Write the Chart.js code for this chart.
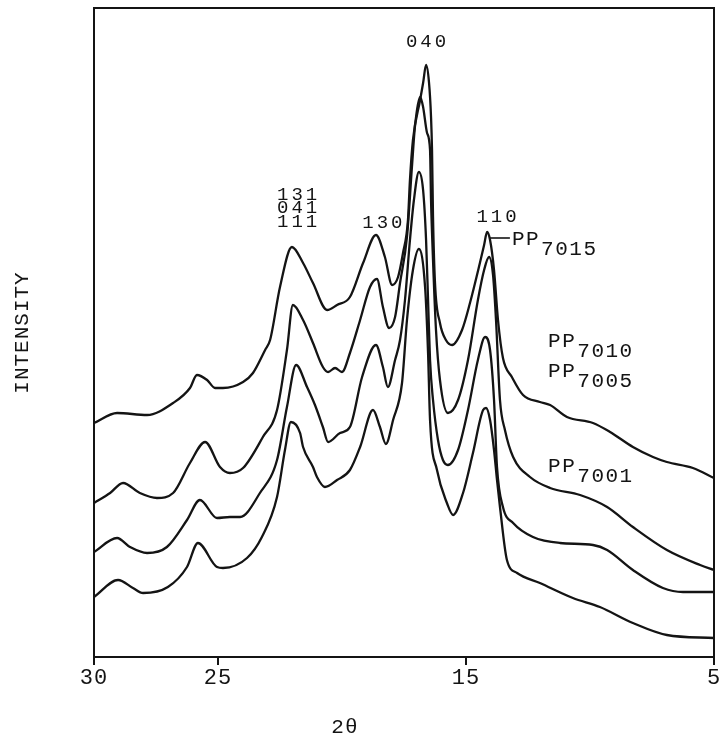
<!DOCTYPE html>
<html>
<head>
<meta charset="utf-8">
<script src="https://cdn.jsdelivr.net/npm/chart.js@4/dist/chart.umd.min.js"></script>
<style>
  html, body { margin: 0; padding: 0; background: #ffffff; }
  canvas { display: block; }
</style>
</head>
<body>
<canvas id="c" width="720" height="738"></canvas>
<script>
// ---------------- data ----------------
const tickValues = [30, 25, 15, 5];
const tickLabels = ['30', '25', '15', '5'];
const seriesNames = ['PP7015', 'PP7010', 'PP7005', 'PP7001'];
const xTitle = '2θ';
const yTitle = 'INTENSITY';

const pp7015TwoTheta = [30.00, 29.07, 27.86, 26.81, 26.13, 25.85, 25.44, 25.12, 24.80, 23.99, 23.59, 23.10, 22.90, 22.50, 22.02, 21.57, 21.17, 20.60, 20.20, 19.68, 19.15, 18.63, 18.27, 17.98, 17.74, 17.54, 17.34, 17.26, 17.14, 16.85, 16.73, 16.61, 16.49, 16.41, 16.37, 16.33, 16.25, 16.05, 15.81, 15.56, 15.16, 14.84, 14.44, 14.27, 14.15, 14.03, 13.87, 13.71, 13.51, 13.15, 12.70, 12.02, 11.61, 10.93, 9.88, 9.19, 8.27, 7.46, 6.90, 5.85, 5.00];
const pp7015Intensity = [234, 244, 242, 254, 269, 282, 277, 269, 269, 275, 284, 307, 317, 370, 410, 394, 374, 347, 352, 360, 394, 422, 400, 372, 380, 404, 437, 477, 517, 557, 574, 592, 574, 540, 507, 440, 374, 334, 317, 312, 327, 354, 394, 412, 425, 417, 387, 337, 299, 280, 262, 255, 252, 240, 234, 225, 210, 200, 195, 189, 179];

const pp7010TwoTheta = [30.00, 29.35, 28.83, 28.15, 27.46, 26.81, 26.13, 25.52, 24.92, 24.52, 23.99, 23.19, 22.62, 22.22, 21.98, 21.57, 21.17, 20.77, 20.56, 20.28, 20.00, 19.68, 19.27, 18.87, 18.59, 18.35, 18.10, 17.86, 17.66, 17.38, 17.18, 17.06, 16.85, 16.73, 16.57, 16.45, 16.41, 16.33, 16.21, 16.05, 15.73, 15.32, 14.92, 14.52, 14.27, 14.07, 13.91, 13.79, 13.63, 13.43, 13.10, 12.42, 11.61, 10.40, 9.31, 8.27, 6.90, 5.56, 5.00];
const pp7010Intensity = [154, 164, 174, 164, 159, 164, 194, 215, 190, 184, 189, 220, 247, 307, 352, 337, 314, 290, 285, 289, 285, 304, 337, 370, 378, 350, 329, 340, 374, 420, 490, 530, 560, 550, 524, 507, 457, 397, 327, 277, 244, 257, 297, 357, 387, 400, 382, 337, 257, 227, 200, 180, 169, 162, 150, 130, 107, 92, 87];

const pp7005TwoTheta = [30.00, 29.07, 28.55, 27.86, 27.06, 26.25, 25.73, 25.04, 24.52, 24.11, 23.31, 22.62, 22.22, 21.85, 21.41, 21.09, 20.77, 20.56, 20.08, 19.68, 19.19, 18.63, 18.35, 18.15, 17.86, 17.66, 17.46, 17.26, 17.10, 16.90, 16.73, 16.61, 16.53, 16.45, 16.33, 16.13, 15.93, 15.73, 15.32, 14.92, 14.52, 14.23, 14.03, 13.87, 13.75, 13.51, 13.10, 12.30, 11.21, 9.88, 9.31, 8.27, 7.06, 6.25, 5.00];
const pp7005Intensity = [105, 119, 110, 104, 110, 137, 157, 139, 140, 140, 164, 197, 250, 292, 270, 252, 230, 215, 224, 230, 280, 312, 290, 270, 297, 317, 357, 417, 457, 485, 467, 417, 357, 297, 257, 217, 197, 192, 207, 247, 297, 320, 307, 257, 190, 150, 134, 120, 114, 112, 107, 87, 69, 65, 65];

const pp7001TwoTheta = [30.00, 29.03, 28.43, 28.02, 27.02, 26.25, 25.81, 25.04, 24.80, 23.83, 23.23, 22.62, 22.30, 22.06, 21.69, 21.57, 21.17, 21.01, 20.69, 20.20, 19.68, 19.27, 18.75, 18.47, 18.23, 17.94, 17.58, 17.38, 17.14, 16.90, 16.65, 16.53, 16.45, 16.17, 15.77, 15.52, 15.12, 14.72, 14.31, 14.19, 14.03, 13.87, 13.75, 13.63, 13.35, 12.94, 12.02, 10.69, 9.60, 8.27, 6.90, 5.00];
const pp7001Intensity = [60, 77, 69, 64, 70, 90, 114, 90, 89, 99, 120, 160, 207, 235, 224, 210, 190, 180, 170, 177, 187, 210, 247, 230, 213, 237, 274, 337, 387, 408, 370, 304, 237, 187, 154, 142, 164, 204, 247, 249, 237, 207, 177, 150, 97, 84, 74, 59, 50, 34, 22, 19];

// reflection (hkl) labels, placed in data coordinates (2θ, intensity)
const peakLabels = [
  { text: '040', x: 16.61, y: 610 },
  { text: '131', x: 21.81, y: 457 },
  { text: '041', x: 21.81, y: 444 },
  { text: '111', x: 21.81, y: 430 },
  { text: '130', x: 18.37, y: 429 },
  { text: '110', x: 13.77, y: 435 }
];
// sample labels (PP + subscript)
const sampleLabels = [
  { name: seriesNames[0], x: 13.15, y: 412 },
  { name: seriesNames[1], x: 11.69, y: 310 },
  { name: seriesNames[2], x: 11.69, y: 280 },
  { name: seriesNames[3], x: 11.69, y: 185 }
];
const leader = { x1: 14.03, x2: 13.23, y: 419 };
const xTitleAt = 19.88;

// ---------------- chart ----------------
const FONT = '"Liberation Mono", "DejaVu Sans Mono", monospace';
const ink = '#141414';

function toPoints(tt, inten) {
  return tt.map((t, i) => ({ x: t, y: inten[i] }));
}

const seriesData = [
  toPoints(pp7015TwoTheta, pp7015Intensity),
  toPoints(pp7010TwoTheta, pp7010Intensity),
  toPoints(pp7005TwoTheta, pp7005Intensity),
  toPoints(pp7001TwoTheta, pp7001Intensity)
];

const spacingPlugin = {
  id: 'letterSpacing',
  beforeDraw(chart) {
    if ('letterSpacing' in chart.ctx) chart.ctx.letterSpacing = '1px';
  }
};

const textPlugin = {
  id: 'textLabels',
  afterDraw(chart) {
    const { ctx, chartArea } = chart;
    const xs = chart.scales.x, ys = chart.scales.y;
    const hasLS = 'letterSpacing' in ctx;
    ctx.save();
    ctx.fillStyle = ink;
    ctx.strokeStyle = ink;
    ctx.textBaseline = 'alphabetic';

    ctx.font = '19px ' + FONT;
    if (hasLS) ctx.letterSpacing = '3px';
    ctx.textAlign = 'center';
    peakLabels.forEach(l => {
      ctx.fillText(l.text, xs.getPixelForValue(l.x) + 1.5, ys.getPixelForValue(l.y));
    });

    ctx.font = '21px ' + FONT;
    if (hasLS) ctx.letterSpacing = '1.5px';
    ctx.textAlign = 'left';
    sampleLabels.forEach(l => {
      const px = xs.getPixelForValue(l.x), py = ys.getPixelForValue(l.y);
      const main = l.name.slice(0, 2), sub = l.name.slice(2);
      ctx.fillText(main, px, py);
      const w = ctx.measureText(main).width;
      ctx.fillText(sub, px + w + 1, py + 10);
    });

    ctx.lineWidth = 1.6;
    ctx.beginPath();
    ctx.moveTo(xs.getPixelForValue(leader.x1), ys.getPixelForValue(leader.y));
    ctx.lineTo(xs.getPixelForValue(leader.x2), ys.getPixelForValue(leader.y));
    ctx.stroke();

    ctx.font = '21px ' + FONT;
    if (hasLS) ctx.letterSpacing = '1px';
    ctx.textAlign = 'center';
    ctx.fillText(xTitle, xs.getPixelForValue(xTitleAt), chartArea.bottom + 76);
    ctx.restore();
  }
};

new Chart(document.getElementById('c'), {
  type: 'line',
  data: {
    datasets: seriesNames.map((name, i) => ({
      label: name,
      data: seriesData[i],
      borderColor: ink,
      borderWidth: 2.3,
      pointRadius: 0,
      fill: false,
      cubicInterpolationMode: 'monotone'
    }))
  },
  options: {
    responsive: false,
    animation: false,
    devicePixelRatio: 1,
    layout: { padding: { top: 8, right: 6, left: 0, bottom: 0 } },
    plugins: { legend: { display: false }, tooltip: { enabled: false } },
    scales: {
      x: {
        type: 'linear',
        position: 'bottom',
        min: 5, max: 30,
        reverse: true,
        afterBuildTicks: axis => { axis.ticks = tickValues.map(v => ({ value: v })); },
        afterFit: s => { s.height = 81; s.paddingLeft = 0; s.paddingRight = 0; },
        ticks: {
          autoSkip: false, maxRotation: 0, padding: 0,
          color: ink,
          font: { family: FONT, size: 22 },
          callback: v => tickLabels[tickValues.indexOf(v)]
        },
        grid: { display: true, drawOnChartArea: false, drawTicks: true, tickLength: 8, color: ink, lineWidth: 2 },
        border: { display: true, color: ink, width: 2 },
        title: { display: false }
      },
      xTop: {
        type: 'linear',
        position: 'top',
        min: 5, max: 30, reverse: true,
        afterFit: s => { s.height = 0; s.paddingLeft = 0; s.paddingRight = 0; },
        ticks: { display: false },
        grid: { display: false, drawTicks: false },
        border: { display: true, color: ink, width: 2 }
      },
      y: {
        type: 'linear',
        position: 'left',
        min: 0, max: 649,
        afterFit: s => { s.width = 94; },
        ticks: { display: false },
        grid: { display: false, drawTicks: false },
        border: { display: true, color: ink, width: 2 },
        title: {
          display: true,
          text: yTitle,
          color: ink,
          font: { family: FONT, size: 21 },
          padding: { top: 10, bottom: 0 }
        }
      },
      yRight: {
        type: 'linear',
        position: 'right',
        min: 0, max: 649,
        afterFit: s => { s.width = 0; },
        ticks: { display: false },
        grid: { display: false, drawTicks: false },
        border: { display: true, color: ink, width: 2 }
      }
    }
  },
  plugins: [spacingPlugin, textPlugin]
});
</script>
</body>
</html>
